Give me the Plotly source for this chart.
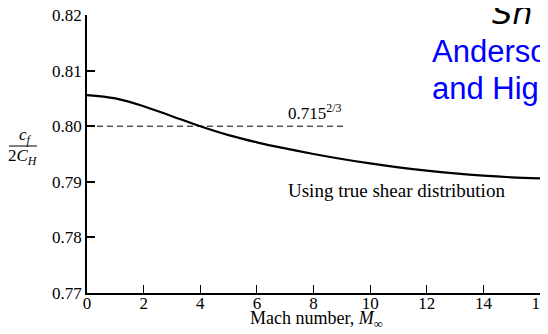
import plotly.graph_objects as go

mach = [0, 1, 2, 3, 4, 5, 6, 7, 8, 9, 10, 11, 12, 13, 14, 15, 16]
ratio = [0.8056, 0.8050, 0.8036, 0.8018, 0.8000, 0.7984, 0.7971, 0.7960,
         0.7950, 0.7941, 0.7933, 0.7926, 0.7920, 0.7915, 0.7911, 0.7908, 0.7906]
ref_x = [0, 9.1]
ref_y = [0.80, 0.80]
x_ticks = [0, 2, 4, 6, 8, 10, 12, 14, 16]
y_ticks = [0.77, 0.78, 0.79, 0.80, 0.81, 0.82]
y_labels = ["0.77", "0.78", "0.79", "0.80", "0.81", "0.82"]

serif = "Liberation Serif"
OFF = 8  # browser default body margin
W, H = 548 - OFF, 334 - OFF
L, R, T, B = 87 - OFF, 8, 15 - OFF, 41
PW, PH = W - L - R, H - T - B


def px(xp):
    return (xp - OFF - L) / PW


def py(yp):
    return (H - (yp - OFF) - B) / PH


fig = go.Figure()
fig.add_trace(go.Scatter(x=ref_x, y=ref_y, mode="lines",
                         line=dict(color="black", width=1, dash="6px,4px"),
                         hoverinfo="skip", showlegend=False))
fig.add_trace(go.Scatter(x=mach, y=ratio, mode="lines",
                         line=dict(color="black", width=2.2, shape="spline"),
                         showlegend=False))

fig.update_layout(
    template="none",
    width=W, height=H,
    margin=dict(l=L, r=R, t=T, b=B, autoexpand=False),
    plot_bgcolor="white", paper_bgcolor="white",
    font=dict(family=serif, color="black", size=17),
    xaxis=dict(range=[0, 16], tickvals=x_ticks, ticks="inside", ticklen=8,
               tickwidth=1, tickcolor="black", showline=True, linecolor="black",
               linewidth=1.5, showgrid=False, zeroline=False, automargin=False,
               ticklabelstandoff=-6, ticklabeloverflow="allow",
               tickfont=dict(family=serif, size=17, color="black")),
    yaxis=dict(range=[0.77, 0.82], tickvals=y_ticks, ticktext=y_labels,
               ticks="inside", ticklen=8, tickwidth=1.5, tickcolor="black",
               showline=True, linecolor="black", linewidth=1.5, showgrid=False,
               zeroline=False, automargin=False, ticklabeloverflow="allow",
               tickfont=dict(family=serif, size=17, color="black")),
)


def note(xp, yp, text, size, color="black", family=serif, xanchor="center"):
    fig.add_annotation(x=px(xp), y=py(yp), xref="paper", yref="paper", text=text,
                       showarrow=False, xanchor=xanchor, yanchor="middle",
                       font=dict(family=family, size=size, color=color))


# x-axis title
note(316, 319, "Mach number, <i>M</i><sub>∞</sub>", 18)

fig.add_annotation(x=8.05, y=0.8003, xref="x", yref="y", text="0.715<sup>2/3</sup>",
                   showarrow=False, yanchor="bottom", font=dict(family=serif, size=17))
note(396, 190, "Using true shear distribution", 19)

# y-axis fraction label
note(25, 136, "<i>c<sub>f</sub></i>", 17)
note(23, 157, "2<i>C<sub>H</sub></i>", 17)
fig.add_shape(type="line", xref="paper", yref="paper",
              x0=px(9), x1=px(37), y0=py(146), y1=py(146),
              line=dict(color="black", width=1))

# Blue overlay text (clipped at the right edge as in the reference)
note(430, 52, "Anderson", 31, color="#0000ff", family="Liberation Sans", xanchor="left")
note(430, 88, "and High", 31, color="#0000ff", family="Liberation Sans", xanchor="left")
note(490, 13, "<i>Sh</i>", 32, family="DejaVu Sans", xanchor="left")

fig.write_html("out.html")
